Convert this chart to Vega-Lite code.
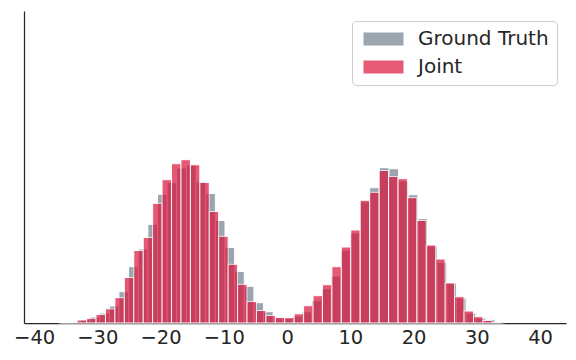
{
  "$schema": "https://vega.github.io/schema/vega-lite/v6.json",
  "width": 542,
  "height": 312,
  "autosize": "none",
  "padding": {"left": 24, "top": 11, "right": 10, "bottom": 37},
  "background": "white",
  "config": {
    "view": {"stroke": null},
    "font": "DejaVu Sans",
    "axis": {"domainColor": "#262626", "domainWidth": 1.25, "labelColor": "#262626", "grid": false, "ticks": false, "title": null},
    "legend": {"padding": 8, "cornerRadius": 4, "strokeColor": "#cccccc", "fillColor": "white"}
  },
  "datasets": {
    "bars": [
      {"series": "Ground Truth", "x0": -35.735, "x1": -34.21, "h": 0.4},
      {"series": "Ground Truth", "x0": -34.21, "x1": -32.69, "h": 1.5},
      {"series": "Ground Truth", "x0": -32.69, "x1": -31.16, "h": 3.5},
      {"series": "Ground Truth", "x0": -31.16, "x1": -29.64, "h": 6},
      {"series": "Ground Truth", "x0": -29.64, "x1": -28.11, "h": 10},
      {"series": "Ground Truth", "x0": -28.11, "x1": -26.59, "h": 17},
      {"series": "Ground Truth", "x0": -26.59, "x1": -25.06, "h": 31.3},
      {"series": "Ground Truth", "x0": -25.06, "x1": -23.54, "h": 56.3},
      {"series": "Ground Truth", "x0": -23.54, "x1": -22.01, "h": 74},
      {"series": "Ground Truth", "x0": -22.01, "x1": -20.49, "h": 98.7},
      {"series": "Ground Truth", "x0": -20.49, "x1": -18.97, "h": 128.7},
      {"series": "Ground Truth", "x0": -18.97, "x1": -17.44, "h": 140.3},
      {"series": "Ground Truth", "x0": -17.44, "x1": -15.92, "h": 155},
      {"series": "Ground Truth", "x0": -15.92, "x1": -14.39, "h": 158},
      {"series": "Ground Truth", "x0": -14.39, "x1": -12.87, "h": 141.3},
      {"series": "Ground Truth", "x0": -12.87, "x1": -11.34, "h": 129.5},
      {"series": "Ground Truth", "x0": -11.34, "x1": -9.82, "h": 102.5},
      {"series": "Ground Truth", "x0": -9.82, "x1": -8.29, "h": 75.5},
      {"series": "Ground Truth", "x0": -8.29, "x1": -6.77, "h": 51.5},
      {"series": "Ground Truth", "x0": -6.77, "x1": -5.25, "h": 36.7},
      {"series": "Ground Truth", "x0": -5.25, "x1": -3.72, "h": 20.3},
      {"series": "Ground Truth", "x0": -3.72, "x1": -2.2, "h": 11.3},
      {"series": "Ground Truth", "x0": -2.2, "x1": -0.67, "h": 5},
      {"series": "Ground Truth", "x0": -0.67, "x1": 0.85, "h": 4.5},
      {"series": "Ground Truth", "x0": 0.85, "x1": 2.38, "h": 7},
      {"series": "Ground Truth", "x0": 2.38, "x1": 3.9, "h": 11.3},
      {"series": "Ground Truth", "x0": 3.9, "x1": 5.43, "h": 22.3},
      {"series": "Ground Truth", "x0": 5.43, "x1": 6.95, "h": 34.3},
      {"series": "Ground Truth", "x0": 6.95, "x1": 8.48, "h": 47},
      {"series": "Ground Truth", "x0": 8.48, "x1": 10.0, "h": 73},
      {"series": "Ground Truth", "x0": 10.0, "x1": 11.53, "h": 90},
      {"series": "Ground Truth", "x0": 11.53, "x1": 13.05, "h": 121},
      {"series": "Ground Truth", "x0": 13.05, "x1": 14.57, "h": 135.3},
      {"series": "Ground Truth", "x0": 14.57, "x1": 16.1, "h": 155.3},
      {"series": "Ground Truth", "x0": 16.1, "x1": 17.62, "h": 154.3},
      {"series": "Ground Truth", "x0": 17.62, "x1": 19.15, "h": 142},
      {"series": "Ground Truth", "x0": 19.15, "x1": 20.67, "h": 128.3},
      {"series": "Ground Truth", "x0": 20.67, "x1": 22.2, "h": 104.3},
      {"series": "Ground Truth", "x0": 22.2, "x1": 23.72, "h": 77},
      {"series": "Ground Truth", "x0": 23.72, "x1": 25.25, "h": 60.7},
      {"series": "Ground Truth", "x0": 25.25, "x1": 26.77, "h": 40},
      {"series": "Ground Truth", "x0": 26.77, "x1": 28.3, "h": 25},
      {"series": "Ground Truth", "x0": 28.3, "x1": 29.82, "h": 10},
      {"series": "Ground Truth", "x0": 29.82, "x1": 31.35, "h": 5},
      {"series": "Ground Truth", "x0": 31.35, "x1": 32.87, "h": 3.3},
      {"series": "Ground Truth", "x0": 32.87, "x1": 34.4, "h": 1},
      {"series": "Joint", "x0": -36.18, "x1": -34.69, "h": 0.5},
      {"series": "Joint", "x0": -34.69, "x1": -33.2, "h": 0.5},
      {"series": "Joint", "x0": -33.2, "x1": -31.7, "h": 3},
      {"series": "Joint", "x0": -31.7, "x1": -30.21, "h": 4.7},
      {"series": "Joint", "x0": -30.21, "x1": -28.72, "h": 8.5},
      {"series": "Joint", "x0": -28.72, "x1": -27.23, "h": 14.2},
      {"series": "Joint", "x0": -27.23, "x1": -25.74, "h": 25.3},
      {"series": "Joint", "x0": -25.74, "x1": -24.24, "h": 45.5},
      {"series": "Joint", "x0": -24.24, "x1": -22.75, "h": 72.5},
      {"series": "Joint", "x0": -22.75, "x1": -21.26, "h": 85.5},
      {"series": "Joint", "x0": -21.26, "x1": -19.77, "h": 119.7},
      {"series": "Joint", "x0": -19.77, "x1": -18.28, "h": 143.3},
      {"series": "Joint", "x0": -18.28, "x1": -16.78, "h": 159.3},
      {"series": "Joint", "x0": -16.78, "x1": -15.29, "h": 163.3},
      {"series": "Joint", "x0": -15.29, "x1": -13.8, "h": 158.2},
      {"series": "Joint", "x0": -13.8, "x1": -12.31, "h": 140.5},
      {"series": "Joint", "x0": -12.31, "x1": -10.82, "h": 111.5},
      {"series": "Joint", "x0": -10.82, "x1": -9.32, "h": 86.7},
      {"series": "Joint", "x0": -9.32, "x1": -7.83, "h": 58.7},
      {"series": "Joint", "x0": -7.83, "x1": -6.34, "h": 38.7},
      {"series": "Joint", "x0": -6.34, "x1": -4.85, "h": 21.5},
      {"series": "Joint", "x0": -4.85, "x1": -3.36, "h": 12.5},
      {"series": "Joint", "x0": -3.36, "x1": -1.86, "h": 7.5},
      {"series": "Joint", "x0": -1.86, "x1": -0.37, "h": 5.6},
      {"series": "Joint", "x0": -0.37, "x1": 1.12, "h": 5.4},
      {"series": "Joint", "x0": 1.12, "x1": 2.61, "h": 9.2},
      {"series": "Joint", "x0": 2.61, "x1": 4.1, "h": 17.3},
      {"series": "Joint", "x0": 4.1, "x1": 5.6, "h": 27.3},
      {"series": "Joint", "x0": 5.6, "x1": 7.09, "h": 38.3},
      {"series": "Joint", "x0": 7.09, "x1": 8.58, "h": 56.3},
      {"series": "Joint", "x0": 8.58, "x1": 10.07, "h": 76},
      {"series": "Joint", "x0": 10.07, "x1": 11.56, "h": 93},
      {"series": "Joint", "x0": 11.56, "x1": 13.06, "h": 122.7},
      {"series": "Joint", "x0": 13.06, "x1": 14.55, "h": 130.7},
      {"series": "Joint", "x0": 14.55, "x1": 16.04, "h": 152.5},
      {"series": "Joint", "x0": 16.04, "x1": 17.53, "h": 146.5},
      {"series": "Joint", "x0": 17.53, "x1": 19.02, "h": 144.3},
      {"series": "Joint", "x0": 19.02, "x1": 20.52, "h": 125.3},
      {"series": "Joint", "x0": 20.52, "x1": 22.01, "h": 102.5},
      {"series": "Joint", "x0": 22.01, "x1": 23.5, "h": 78},
      {"series": "Joint", "x0": 23.5, "x1": 24.99, "h": 64},
      {"series": "Joint", "x0": 24.99, "x1": 26.48, "h": 40},
      {"series": "Joint", "x0": 26.48, "x1": 27.98, "h": 26.3},
      {"series": "Joint", "x0": 27.98, "x1": 29.47, "h": 12},
      {"series": "Joint", "x0": 29.47, "x1": 30.96, "h": 6.3},
      {"series": "Joint", "x0": 30.96, "x1": 32.45, "h": 2.5},
      {"series": "Joint", "x0": 32.45, "x1": 33.94, "h": 0.6}
    ]
  },
  "data": {"name": "bars"},
  "mark": {"type": "rect", "opacity": 0.7, "stroke": "white", "strokeWidth": 1},
  "encoding": {
    "x": {
      "field": "x0", "type": "quantitative",
      "scale": {"domain": [-41.6, 44.1], "nice": false, "zero": false},
      "axis": {"values": [-40, -30, -20, -10, 0, 10, 20, 30, 40], "labelFontSize": 19.5, "labelPadding": 5, "labelFlush": false}
    },
    "x2": {"field": "x1"},
    "y": {
      "field": "h", "type": "quantitative",
      "scale": {"domain": [0, 312], "nice": false},
      "axis": {"labels": false, "ticks": false}
    },
    "y2": {"datum": 0},
    "color": {
      "field": "series", "type": "nominal",
      "scale": {"domain": ["Ground Truth", "Joint"], "range": ["#708090", "#dc143c"]},
      "legend": {
        "title": null, "orient": "none", "legendX": 328, "legendY": 10,
        "symbolType": "M-1,-1L5.154,-1L5.154,1L-1,1Z",
        "symbolSize": 169, "symbolStrokeWidth": 0, "symbolOpacity": 0.7,
        "labelFontSize": 20, "labelColor": "#262626", "labelOffset": 38, "rowPadding": 8
      }
    }
  }
}
